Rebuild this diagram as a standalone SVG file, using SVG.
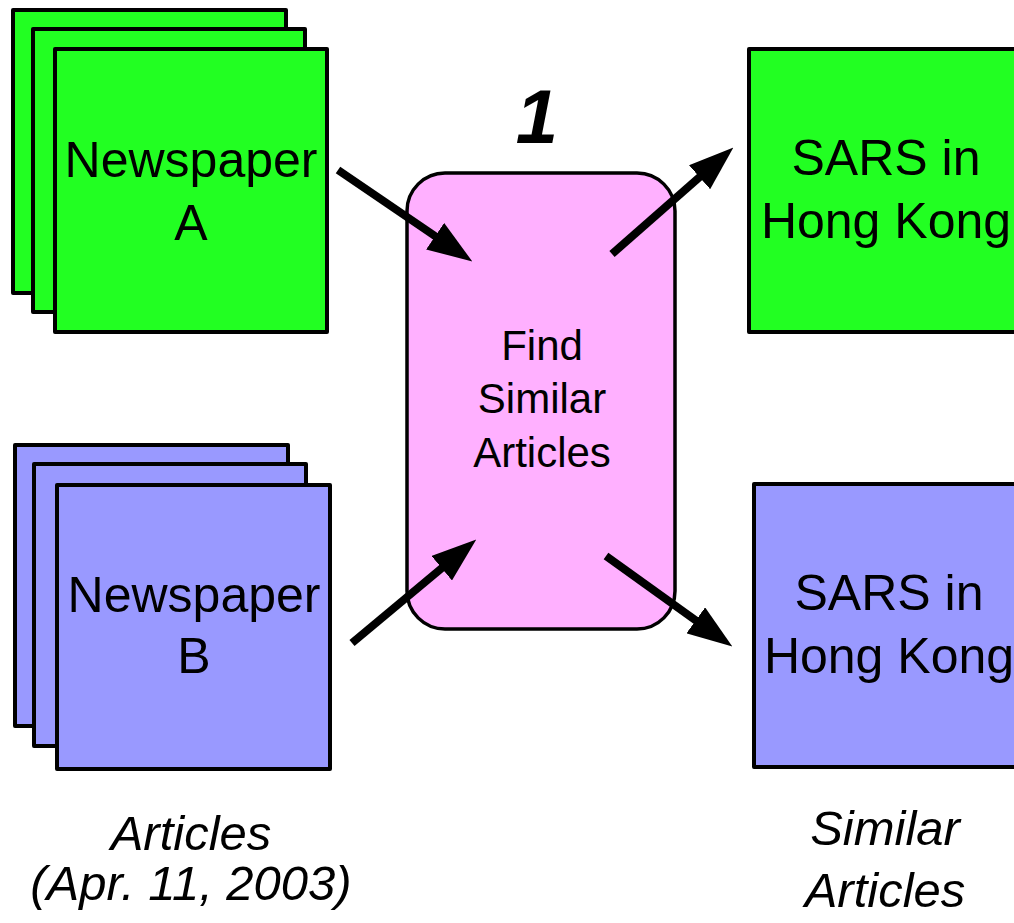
<svg xmlns="http://www.w3.org/2000/svg" width="1014" height="923" viewBox="0 0 1014 923">
  <style>
    .page { stroke: #000; stroke-width: 4; stroke-linejoin: round; }
    .green { fill: #22FF22; }
    .blue { fill: #9999FF; }
    .proc { fill: #FFB0FF; stroke: #000; stroke-width: 3.5; }
    .lbl { font-family: "Liberation Sans", Arial, sans-serif; font-size: 50px; fill: #000; text-anchor: middle; }
    .mid { font-size: 42px; }
    .cap { font-style: italic; font-size: 49px; }
    .num { font-style: italic; font-weight: bold; font-size: 76px; }
    .conn { stroke: #000; stroke-width: 8; fill: none; marker-end: url(#head); }
  </style>
  <defs>
    <marker id="head" markerUnits="userSpaceOnUse" viewBox="0 0 45 32" refX="10" refY="16" markerWidth="45" markerHeight="32" orient="auto">
      <path d="M0,0 L45,16 L0,32 Z" fill="#000"/>
    </marker>
  </defs>

  <rect width="1014" height="923" fill="#fff"/>

  <!-- stacked source pages: newspaper A -->
  <g id="newspaperA">
    <rect class="page green" x="13" y="10" width="273" height="283"/>
    <rect class="page green" x="33" y="29" width="272" height="283"/>
    <rect class="page green" x="55" y="49" width="272" height="283"/>
    <text class="lbl" x="191" y="177">Newspaper</text>
    <text class="lbl" x="191" y="240">A</text>
  </g>

  <!-- stacked source pages: newspaper B -->
  <g id="newspaperB">
    <rect class="page blue" x="15" y="445" width="273" height="281"/>
    <rect class="page blue" x="34" y="464" width="272" height="282"/>
    <rect class="page blue" x="57" y="485" width="273" height="284"/>
    <text class="lbl" x="194" y="612">Newspaper</text>
    <text class="lbl" x="194" y="673">B</text>
  </g>

  <!-- matching process -->
  <g id="process">
    <text class="lbl num" x="537" y="143">1</text>
    <rect class="proc" x="407" y="173" width="268" height="456" rx="38" ry="38"/>
    <text class="lbl mid" x="542" y="360">Find</text>
    <text class="lbl mid" x="542" y="413">Similar</text>
    <text class="lbl mid" x="542" y="467">Articles</text>
  </g>

  <!-- result pages -->
  <g id="resultA">
    <rect class="page green" x="749" y="49" width="280" height="283"/>
    <text class="lbl" x="886" y="175">SARS in</text>
    <text class="lbl" x="886" y="238">Hong Kong</text>
  </g>
  <g id="resultB">
    <rect class="page blue" x="754" y="484" width="280" height="283"/>
    <text class="lbl" x="889" y="610">SARS in</text>
    <text class="lbl" x="889" y="673">Hong Kong</text>
  </g>

  <!-- captions -->
  <g id="captionInput">
    <text class="lbl cap" x="191" y="850">Articles</text>
    <text class="lbl cap" x="191" y="900">(Apr. 11, 2003)</text>
  </g>
  <g id="captionOutput">
    <text class="lbl cap" x="885" y="845">Similar</text>
    <text class="lbl cap" x="885" y="907">Articles</text>
  </g>

  <!-- connectors -->
  <g id="connectors">
    <line class="conn" x1="338" y1="170" x2="443.4" y2="241.8"/>
    <line class="conn" x1="612" y1="254" x2="707.1" y2="170.6"/>
    <line class="conn" x1="352" y1="643" x2="449.4" y2="561.8"/>
    <line class="conn" x1="606" y1="556" x2="703.9" y2="626.2"/>
  </g>
</svg>
